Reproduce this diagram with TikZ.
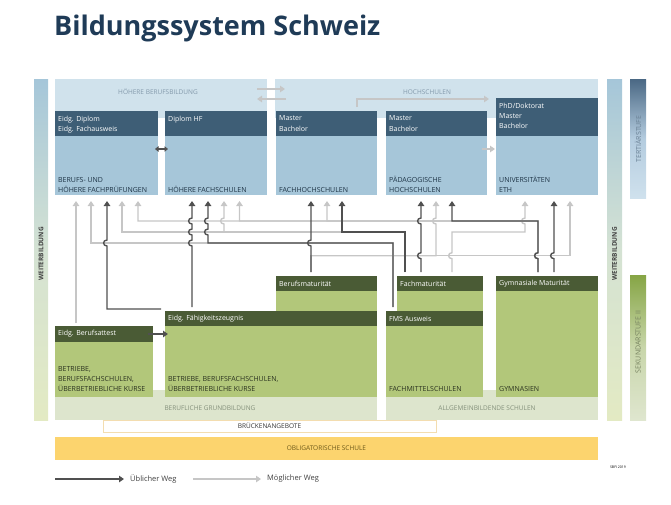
\documentclass[tikz,border=0pt]{standalone}
\usepackage{fontspec}
\setmainfont{Open Sans}
\usetikzlibrary{arrows.meta}

\definecolor{navy}{HTML}{1F3B57}
\definecolor{thead}{HTML}{3E5E76}
\definecolor{tbody}{HTML}{A6C6D9}
\definecolor{tband}{HTML}{D0E2EC}
\definecolor{tbandtxt}{HTML}{8399AB}
\definecolor{tdark}{HTML}{1E3446}
\definecolor{shead}{HTML}{4A5B35}
\definecolor{sbody}{HTML}{B2C77A}
\definecolor{sband}{HTML}{DDE5CD}
\definecolor{sbandtxt}{HTML}{84907B}
\definecolor{sdark}{HTML}{2B3320}
\definecolor{oblig}{HTML}{FCD46E}
\definecolor{obligtxt}{HTML}{6E5A1A}
\definecolor{bridge}{HTML}{F3DDB0}
\definecolor{arrdark}{HTML}{505050}
\definecolor{arrlight}{HTML}{C6C6C6}
\definecolor{wbtop}{HTML}{A5C6D9}
\definecolor{wbmid}{HTML}{D4E2D3}
\definecolor{wbbot}{HTML}{E3EAC3}
\definecolor{tstop}{HTML}{4A6884}
\definecolor{tsmid}{HTML}{B4CCDF}
\definecolor{tsbot}{HTML}{CFE1ED}
\definecolor{tstxt}{HTML}{6B8296}
\definecolor{sstop}{HTML}{86A545}
\definecolor{ssmid}{HTML}{C8D6AA}
\definecolor{ssbot}{HTML}{DFE6CF}
\definecolor{sstxt}{HTML}{76825F}

\tikzset{
  band/.style={anchor=north west,inner sep=0pt,outer sep=0pt},
  bandtxt/.style={inner sep=0pt,font=\fontsize{6.5}{8}\selectfont},
  tbox/.style={band,fill=tbody},
  thd/.style={band,fill=thead},
  sbox/.style={band,fill=sbody},
  shd/.style={band,fill=shead},
  hdtxt/.style={anchor=north west,inner sep=0pt,align=left,text=white},
  tbtxt/.style={anchor=south west,inner sep=0pt,align=left,text=tdark},
  sbtxt/.style={anchor=south west,inner sep=0pt,align=left,text=sdark},
  sidetxt/.style={inner sep=0pt,rotate=90,font=\fontsize{7}{8}\selectfont},
  usual/.style={draw=arrdark,line width=1.4pt,-{Triangle[length=5pt,width=6.5pt]},
    shorten >=6pt,shorten <=4pt},
  possible/.style={usual,draw=arrlight}
}

% bump of a vertical line (going up) over a horizontal one
\newcommand\hop[2]{-- (#1,#2+3) .. controls (#1-4.5,#2+3) and (#1-4.5,#2-3) .. (#1,#2-3)}

\begin{document}
\begin{tikzpicture}[x=1pt,y=-1pt,font=\fontsize{7}{10.3}\selectfont]
  \useasboundingbox (0,0) rectangle (671,504);
  \node[anchor=base west,inner sep=0pt,text=navy,font=\fontsize{27}{32}\selectfont\bfseries] (title) at (54,35) {Bildungssystem Schweiz};
  %
  % Tertiaerstufe
  \node[band,fill=tband,minimum width=212pt,minimum height=39pt] (hbb) at (55,79) {};
  \node[band,fill=tband,minimum width=323pt,minimum height=39pt] (hsb) at (275,79) {};
  \node[bandtxt,text=tbandtxt] at (158,92) {HÖHERE BERUFSBILDUNG};
  \node[bandtxt,text=tbandtxt] at (427,92) {HOCHSCHULEN};
  %
  \node[tbox,minimum width=103pt,minimum height=84pt] (bp) at (55,111) {};
  \node[thd,minimum width=103pt,minimum height=25pt] (bphd) at (bp.north west) {};
  \node[tbox,minimum width=102pt,minimum height=84pt] (hf) at (165,111) {};
  \node[thd,minimum width=102pt,minimum height=25pt] (hfhd) at (hf.north west) {};
  \node[tbox,minimum width=101pt,minimum height=84pt] (fh) at (276,111) {};
  \node[thd,minimum width=101pt,minimum height=25pt] (fhhd) at (fh.north west) {};
  \node[tbox,minimum width=101pt,minimum height=84pt] (ph) at (386,111) {};
  \node[thd,minimum width=101pt,minimum height=25pt] (phhd) at (ph.north west) {};
  \node[tbox,minimum width=102pt,minimum height=97pt] (uni) at (496,98) {};
  \node[thd,minimum width=102pt,minimum height=38pt] (unihd) at (uni.north west) {};
  %
  \node[hdtxt] at ([shift={(3pt,-4.5pt)}]bphd.north west) {Eidg. Diplom\\Eidg. Fachausweis};
  \node[hdtxt] at ([shift={(3pt,-4.5pt)}]hfhd.north west) {Diplom HF};
  \node[hdtxt] at ([shift={(3pt,-4.5pt)}]fhhd.north west) {Master\\Bachelor};
  \node[hdtxt] at ([shift={(3pt,-4.5pt)}]phhd.north west) {Master\\Bachelor};
  \node[hdtxt] at ([shift={(3pt,-4.5pt)}]unihd.north west) {PhD/Doktorat\\Master\\Bachelor};
  \node[tbtxt] at ([shift={(3pt,2pt)}]bp.south west) {BERUFS- UND\\HÖHERE FACHPRÜFUNGEN};
  \node[tbtxt] at ([shift={(3pt,2pt)}]hf.south west) {HÖHERE FACHSCHULEN};
  \node[tbtxt] at ([shift={(3pt,2pt)}]fh.south west) {FACHHOCHSCHULEN};
  \node[tbtxt] at ([shift={(3pt,2pt)}]ph.south west) {PÄDAGOGISCHE\\HOCHSCHULEN};
  \node[tbtxt] at ([shift={(3pt,2pt)}]uni.south west) {UNIVERSITÄTEN\\ETH};
  %
  % Sekundarstufe II
  \node[band,fill=sband,minimum width=322pt,minimum height=30pt] (bgb) at (55,390) {};
  \node[band,fill=sband,minimum width=212pt,minimum height=30pt] (agb) at (386,390) {};
  \node[bandtxt,text=sbandtxt] at (210,408) {BERUFLICHE GRUNDBILDUNG};
  \node[bandtxt,text=sbandtxt] at (487,408) {ALLGEMEINBILDENDE SCHULEN};
  %
  \node[sbox,minimum width=101pt,minimum height=35pt] (bm) at (276,276) {};
  \node[shd,minimum width=101pt,minimum height=15pt] (bmhd) at (bm.north west) {};
  \node[sbox,minimum width=86pt,minimum height=35pt] (fm) at (397,276) {};
  \node[shd,minimum width=86pt,minimum height=15pt] (fmhd) at (fm.north west) {};
  \node[sbox,minimum width=102pt,minimum height=121pt] (gm) at (496,276) {};
  \node[shd,minimum width=102pt,minimum height=15pt] (gmhd) at (gm.north west) {};
  \node[sbox,minimum width=212pt,minimum height=86pt] (efz) at (165,311) {};
  \node[shd,minimum width=212pt,minimum height=15pt] (efzhd) at (efz.north west) {};
  \node[sbox,minimum width=97pt,minimum height=86pt] (fms) at (386,311) {};
  \node[shd,minimum width=97pt,minimum height=15pt] (fmshd) at (fms.north west) {};
  \node[sbox,minimum width=98pt,minimum height=71pt] (ba) at (55,326) {};
  \node[shd,minimum width=98pt,minimum height=16pt] (bahd) at (ba.north west) {};
  %
  \node[hdtxt,anchor=west] at ([xshift=3pt]bmhd.west) {Berufsmaturität};
  \node[hdtxt,anchor=west] at ([xshift=3pt]fmhd.west) {Fachmaturität};
  \node[hdtxt,anchor=west] at ([xshift=3pt]gmhd.west) {Gymnasiale Maturität};
  \node[hdtxt,anchor=west] at ([xshift=3pt]efzhd.west) {Eidg. Fähigkeitszeugnis};
  \node[hdtxt,anchor=west] at ([xshift=3pt]fmshd.west) {FMS Ausweis};
  \node[hdtxt,anchor=west] at ([xshift=3pt]bahd.west) {Eidg. Berufsattest};
  \node[sbtxt] at ([shift={(3pt,5pt)}]ba.south west) {BETRIEBE,\\BERUFSFACHSCHULEN,\\ÜBERBETRIEBLICHE KURSE};
  \node[sbtxt] at ([shift={(3pt,5pt)}]efz.south west) {BETRIEBE, BERUFSFACHSCHULEN,\\ÜBERBETRIEBLICHE KURSE};
  \node[sbtxt] at ([shift={(3pt,5pt)}]fms.south west) {FACHMITTELSCHULEN};
  \node[sbtxt] at ([shift={(3pt,5pt)}]gm.south west) {GYMNASIEN};
  %
  % Brueckenangebote, obligatorische Schule
  \node[band,fill=white,draw=bridge,line width=0.8pt,minimum width=333pt,minimum height=12pt] (bruecke) at (103,420) {};
  \node[bandtxt,text=black!80] at (bruecke.center) {BRÜCKENANGEBOTE};
  \node[band,fill=oblig,minimum width=543pt,minimum height=23pt] (obl) at (55,437) {};
  \node[bandtxt,text=obligtxt] at (obl.center) {OBLIGATORISCHE SCHULE};
  %
  % side bars
  \node[band,top color=wbtop,bottom color=wbbot,middle color=wbmid,minimum width=14pt,minimum height=341pt] (wbl) at (34,79) {};
  \node[band,top color=wbtop,bottom color=wbbot,middle color=wbmid,minimum width=15pt,minimum height=341pt] (wbr) at (607,79) {};
  \node[band,top color=tstop,bottom color=tsbot,middle color=tsmid,minimum width=16pt,minimum height=119pt] (ts) at (630,79) {};
  \node[band,top color=sstop,bottom color=ssbot,middle color=ssmid,minimum width=16pt,minimum height=145pt] (ss) at (630,275) {};
  \node[sidetxt,font=\fontsize{6.5}{8}\selectfont\bfseries,text=black!75] at (wbl.center |- 0,254) {WEITERBILDUNG};
  \node[sidetxt,font=\fontsize{6.5}{8}\selectfont\bfseries,text=black!75] at (wbr.center |- 0,254) {WEITERBILDUNG};
  \node[sidetxt,text=tstxt] at (ts.center |- 0,139) {TERTIÄRSTUFE};
  \node[sidetxt,text=sstxt] at (ss.center |- 0,342) {SEKUNDARSTUFE II};
  %
  % moegliche Wege
  \draw[possible,shorten <=3pt] (ba.north -| 76,0) -- (bp.south -| 76,0);
  \draw[possible] (fms.north -| 393,0) -- (393,243) -- (91,243) -- (bp.south -| 91,0);
  \draw[possible] (fm.north -| 405,0) -- (405,232) -- (122,232) -- (bp.south -| 122,0);
  \draw[possible] (fm.north -| 405,0) -- (405,232) -- (224,232) \hop{224}{221} -- (hf.south -| 224,0);
  \foreach \x/\t in {138/bp,239.5/hf,327/fh}
    \draw[possible] (gm.north -| 538,0) \hop{538}{255.7} -- (538,221) -- (\x,221) -- (\t.south -| \x,0);
  \draw[possible] (bm.north -| 311,0) -- (311,255.7) -- (436,255.7) \hop{436}{221} -- (ph.south -| 436,0);
  \draw[possible] (bm.north -| 311,0) -- (311,255.7) -- (570,255.7) -- (uni.south -| 570,0);
  \draw[possible] (fm.north -| 452,0) \hop{452}{255.7} -- (452,232) -- (525,232) \hop{525}{221} -- (uni.south -| 525,0);
  \draw[possible,shorten >=0pt,shorten <=0pt] ([xshift=-10pt]hbb.east |- 0,89) -- ([xshift=10pt]hsb.west |- 0,89);
  \draw[possible,shorten >=0pt,shorten <=0pt] ([xshift=11pt]hsb.west |- 0,99) -- ([xshift=-10pt]hbb.east |- 0,99);
  \draw[possible,shorten >=0pt,shorten <=0pt] ([yshift=4pt]fh.north -| 357,0) |- ([xshift=-7pt]uni.north west |- 0,99);
  \draw[possible,shorten >=0pt,shorten <=0pt] ([shift={(-5pt,4pt)}]ph.east) -- ([shift={(-1pt,4pt)}]ph.east -| uni.west);
  %
  % uebliche Wege
  \draw[usual] ([yshift=2pt]efz.north west) -- (107,309) \hop{107}{243} -- (bp.south -| 107,0);
  \draw[usual] (efz.north -| 192,0) \hop{192}{243} \hop{192}{232} \hop{192}{221} -- (hf.south -| 192,0);
  \draw[usual] (fms.north -| 393,0) -- (393,243) -- (208,243) \hop{208}{232} \hop{208}{221} -- (hf.south -| 208,0);
  \draw[usual] (bm.north -| 311,0) \hop{311}{243} -- (fh.south -| 311,0);
  \draw[usual] (fm.north -| 405,0) -- (405,232) -- (342,232) -- (fh.south -| 342,0);
  \draw[usual] (fm.north -| 421,0) \hop{421}{255.7} \hop{421}{221} -- (ph.south -| 421,0);
  \draw[usual] (gm.north -| 538,0) \hop{538}{255.7} -- (538,221) -- (452,221) -- (ph.south -| 452,0);
  \draw[usual] (gm.north -| 554,0) \hop{554}{255.7} -- (uni.south -| 554,0);
  \draw[usual,shorten >=0pt,shorten <=0pt] ([xshift=-5pt]bahd.east) -- ([xshift=3pt]bahd.east -| efz.west);
  \draw[usual,shorten >=0pt,shorten <=0pt,{Triangle[length=3.5pt,width=5.5pt]}-{Triangle[length=3.5pt,width=5.5pt]}] ([shift={(-3pt,4pt)}]bp.east) -- ([shift={(3pt,4pt)}]hf.west);
  %
  % legend
  \coordinate (usualstart) at (55,479);
  \coordinate (possiblestart) at (193,479);
  \node[anchor=west,inner sep=0pt,font=\fontsize{7.5}{9}\selectfont,text=black!75] (usualtxt) at (130,479) {Üblicher Weg};
  \node[anchor=west,inner sep=0pt,font=\fontsize{7.5}{9}\selectfont,text=black!75] (possibletxt) at (267,479) {Möglicher Weg};
  \draw[usual,shorten <=0pt] (usualstart) -- (usualtxt.west);
  \draw[possible,shorten <=0pt] (possiblestart) -- (possibletxt.west);
  \node[inner sep=0pt,font=\fontsize{3.5}{4}\selectfont] (sbfi) at (618,467) {SBFI 2019};
\end{tikzpicture}
\end{document}
